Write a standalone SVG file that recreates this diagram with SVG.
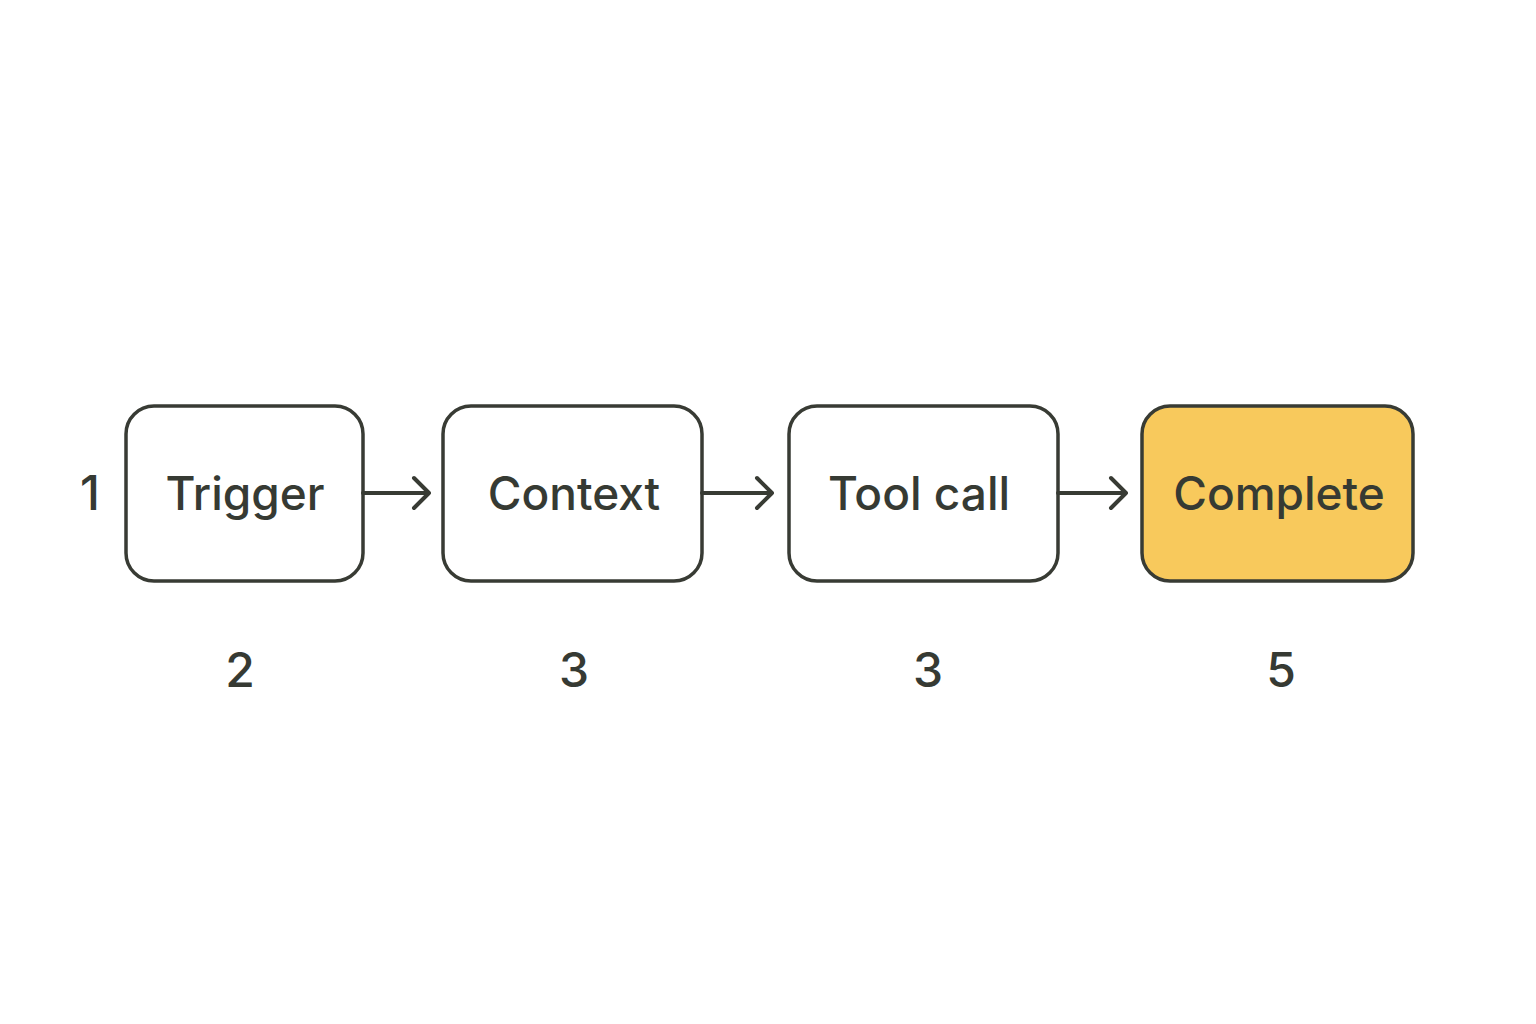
<svg xmlns="http://www.w3.org/2000/svg" width="1536" height="1024" viewBox="0 0 1536 1024">
<style>
.box{fill:#ffffff;stroke:#383b34;stroke-width:3.5}
.hl{fill:#f8c95c}
.lbl{font-family:Inter,"Liberation Sans",sans-serif;font-size:46px;font-weight:500;fill:#363a33;text-anchor:middle;dominant-baseline:central}
.num{font-family:Inter,"Liberation Sans",sans-serif;font-size:48px;font-weight:500;fill:#363a33;text-anchor:middle}
.edge{stroke:#383b34;stroke-width:4;fill:none;stroke-linecap:round;stroke-linejoin:round}
</style>
<rect width="1536" height="1024" fill="#ffffff"/>
<text class="num" x="90" y="510">1</text>
<g id="trigger"><rect class="box" x="126" y="406" width="237" height="175" rx="28"/><text class="lbl" x="245" y="493">Trigger</text></g>
<g id="context"><rect class="box" x="443" y="406" width="259" height="175" rx="28"/><text class="lbl" x="574" y="493">Context</text></g>
<g id="toolcall"><rect class="box" x="789" y="406" width="269" height="175" rx="28"/><text class="lbl" x="919" y="493">Tool call</text></g>
<g id="complete"><rect class="box hl" x="1142" y="406" width="271" height="175" rx="28"/><text class="lbl" x="1279" y="493">Complete</text></g>
<g id="connectors">
<path class="edge" d="M363 493H429M414 478L429 493L414 508"/>
<path class="edge" d="M702 493H772M757 478L772 493L757 508"/>
<path class="edge" d="M1058 493H1126M1111 478L1126 493L1111 508"/>
</g>
<text class="num" x="240" y="687">2</text>
<text class="num" x="574" y="687">3</text>
<text class="num" x="928" y="687">3</text>
<text class="num" x="1281" y="687">5</text>
</svg>
